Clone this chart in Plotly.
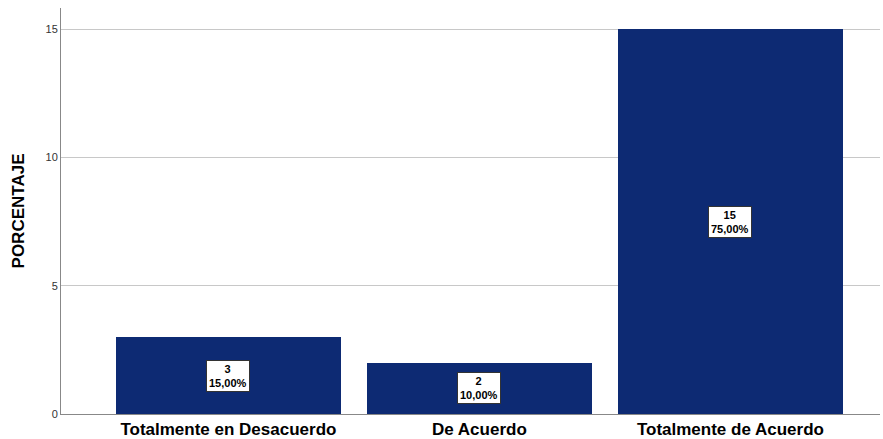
import plotly.graph_objects as go

categories = ["Totalmente en Desacuerdo", "De Acuerdo", "Totalmente de Acuerdo"]
counts = [3, 2, 15]
percents = ["15,00%", "10,00%", "75,00%"]
y_ticks = [0, 5, 10, 15]

fig = go.Figure()
fig.add_trace(go.Bar(
    x=list(range(len(categories))), y=counts, width=0.896,
    marker=dict(color="#0d2a73", line=dict(width=0)),
    hoverinfo="skip",
))

for i, (c, p) in enumerate(zip(counts, percents)):
    fig.add_annotation(
        x=i, y=c / 2, xref="x", yref="y",
        text=f"<b>{c}<br>{p}</b>", showarrow=False,
        font=dict(family="Arial", size=11, color="black"),
        bgcolor="white", bordercolor="#333333", borderwidth=1, borderpad=2,
        align="center",
    )

fig.update_layout(
    width=883, height=439,
    margin=dict(l=61, r=3, t=8, b=25),
    paper_bgcolor="white", plot_bgcolor="white",
    showlegend=False,
    bargap=0,
    xaxis=dict(
        range=[-0.667, 2.596],
        tickmode="array", tickvals=list(range(len(categories))), ticktext=categories,
        tickfont=dict(family="Arial", size=17, color="black", weight="bold"),
        showline=True, linecolor="#888888", linewidth=1,
        showgrid=False, ticks="", zeroline=False, automargin=False,
    ),
    yaxis=dict(
        range=[0, 15.82],
        tickmode="array", tickvals=y_ticks,
        tickfont=dict(family="Arial", size=11, color="#333333"),
        showline=True, linecolor="#888888", linewidth=1,
        showgrid=True, gridcolor="#c8c8c8", gridwidth=1,
        ticks="", ticklen=0, zeroline=False, automargin=False,
        title=dict(text="<b>PORCENTAJE</b>", font=dict(family="Arial", size=17, color="black"), standoff=16),
    ),
)

fig.write_html(
    "out.html",
    config={"displayModeBar": False},
    post_script="document.body.style.margin='0';document.body.style.overflow='hidden';",
)
